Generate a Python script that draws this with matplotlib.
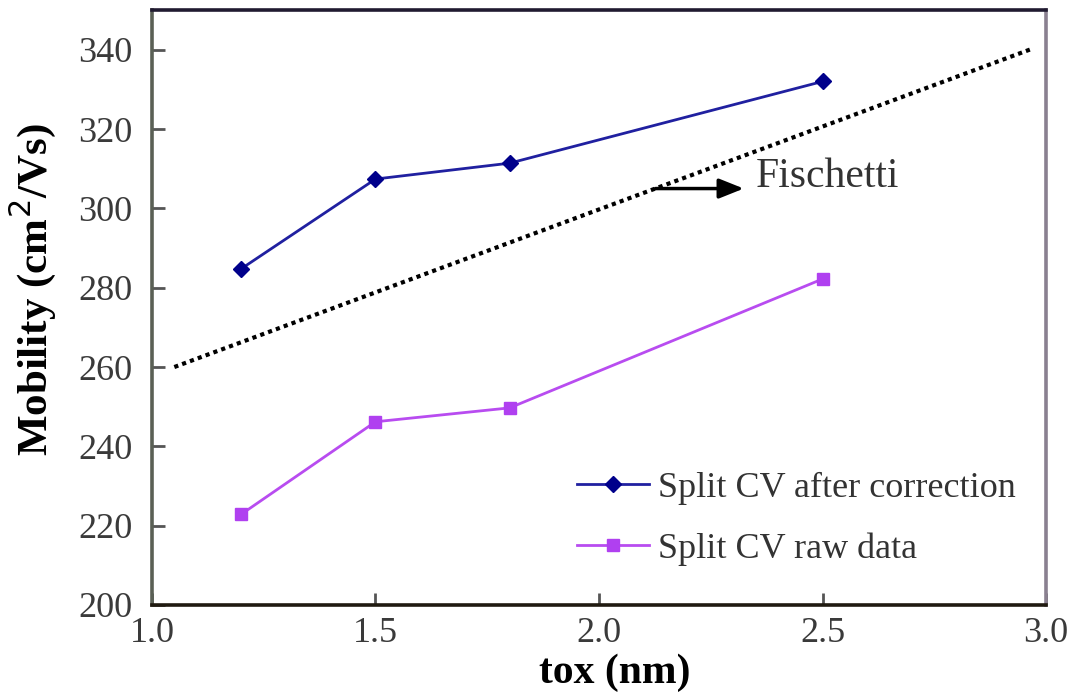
import matplotlib
matplotlib.use("Agg")
import matplotlib.pyplot as plt

tox = [1.2, 1.5, 1.8, 2.5]
corrected = [284.8, 307.4, 311.4, 332.0]
raw = [222.9, 246.2, 249.7, 282.2]
fischetti_x = [1.05, 2.97]
fischetti_y = [260.0, 340.3]
xticks = [1.0, 1.5, 2.0, 2.5, 3.0]
yticks = [200, 220, 240, 260, 280, 300, 320, 340]

plt.rcParams['font.family'] = ['Liberation Serif', 'DejaVu Serif']

fig = plt.figure(figsize=(10.74, 6.95), dpi=100)
ax = fig.add_axes([0.1415, 0.1295, 0.8325, 0.856])

ax.plot(tox, corrected, color='#2020a0', lw=2.0, marker='D', ms=8,
        mfc='#00008b', mec='#00008b', label='Split CV after correction')
ax.plot(tox, raw, color='#b84cf0', lw=2.0, marker='s', ms=9,
        mfc='#b040f0', mec='#b040f0', label='Split CV raw data')
ax.plot(fischetti_x, fischetti_y, color='black', lw=3, ls=(0, (1, 1)))

ax.annotate('', xy=(2.33, 305), xytext=(2.12, 305),
            arrowprops=dict(arrowstyle='-|>,head_length=1.5,head_width=0.6',
                            color='black', lw=2.5))
ax.text(2.35, 308, 'Fischetti', fontsize=30, color='#333333', va='center', ha='left')

ax.set_xlim(1.0, 3.0)
ax.set_ylim(200, 350)
ax.set_xticks(xticks)
ax.set_yticks(yticks)
ax.set_xticklabels([f'{v:.1f}' for v in xticks])
ax.tick_params(axis='both', direction='in', labelsize=26, labelcolor='#3a3a3a',
               length=9, width=2, color='#555555')
ax.tick_params(axis='y', pad=14)
ax.tick_params(axis='x', pad=9)

for side, c in [('left', '#5a6055'), ('bottom', '#201a10'), ('top', '#201a30'), ('right', '#8a8090')]:
    ax.spines[side].set_linewidth(2.6)
    ax.spines[side].set_color(c)

ax.set_xlabel('tox (nm)', fontsize=30, fontweight='bold')
ax.set_ylabel('Mobility (cm$^{2}$/Vs)', fontsize=31, fontweight='bold')
ax.xaxis.set_label_coords(0.518, -0.082)
ax.yaxis.set_label_coords(-0.105, 0.53)

leg = ax.legend(loc='center left', bbox_to_anchor=(0.475, 0.145), frameon=False,
                fontsize=26, handlelength=2.0, handletextpad=0.25, labelspacing=0.75,
                borderpad=0, borderaxespad=0, labelcolor='#333333')

fig.savefig('out.png', dpi=100)
